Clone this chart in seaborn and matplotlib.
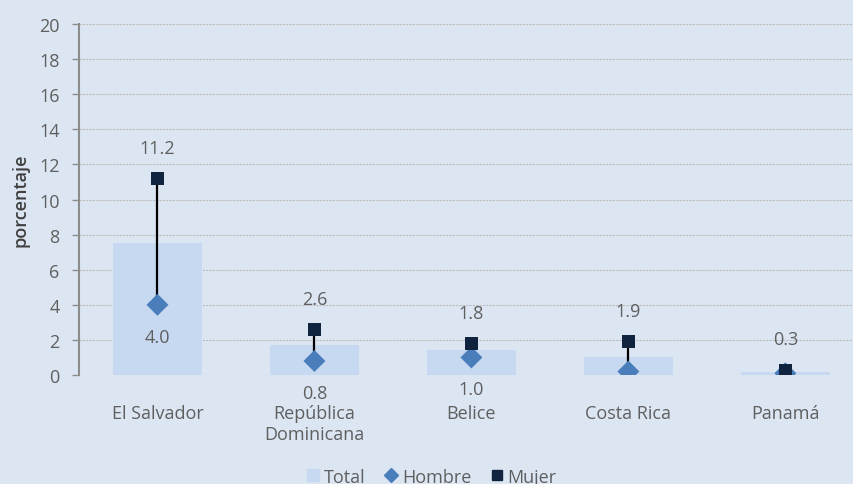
import matplotlib
matplotlib.use('Agg')
import matplotlib.pyplot as plt
import seaborn as sns
import pandas as pd
from matplotlib.lines import Line2D

paises = ['El Salvador', 'República\nDominicana', 'Belice', 'Costa Rica', 'Panamá']
total = [7.5, 1.7, 1.4, 1.0, 0.2]
hombre = [4.0, 0.8, 1.0, 0.2, 0.1]
mujer = [11.2, 2.6, 1.8, 1.9, 0.3]
etiq_hombre = ['4.0', '0.8', '1.0', None, None]
etiq_mujer = ['11.2', '2.6', '1.8', '1.9', '0.3']

fondo = '#dce6f2'
c_total = '#c6d9f0'
c_hombre = '#4a7ebb'
c_mujer = '#10243f'
gris = '#5f5f5f'
tam = 13

sns.set_style('white')
plt.rcParams['font.family'] = ['Open Sans', 'DejaVu Sans']

df = pd.DataFrame({'pais': paises, 'total': total, 'hombre': hombre, 'mujer': mujer})
df['x'] = range(len(df))

fig = plt.figure(figsize=(8.54, 4.85), dpi=100, facecolor=fondo)
ax = fig.add_axes([0.0925, 0.2247, 0.919, 0.7237])
ax.set_facecolor(fondo)

# barras del total y rango hombre-mujer
sns.barplot(data=df, x='pais', y='total', color=c_total, width=0.57,
            saturation=1, linewidth=0, ax=ax, zorder=2)
ax.vlines(df['x'], df['hombre'], df['mujer'], color='black', lw=1.6, zorder=3)
sns.scatterplot(data=df, x='x', y='hombre', marker='D', s=125, color=c_hombre,
                edgecolor='none', linewidth=0, ax=ax, zorder=4)
sns.scatterplot(data=df, x='x', y='mujer', marker='s', s=80, color=c_mujer,
                edgecolor='none', linewidth=0, ax=ax, zorder=5)

for i in range(len(paises)):
    ax.annotate(etiq_mujer[i], (i, mujer[i]), xytext=(0, 22), textcoords='offset points',
                ha='center', va='center', fontsize=tam, color=gris)
    if etiq_hombre[i]:
        ax.annotate(etiq_hombre[i], (i, hombre[i]), xytext=(0, -23), textcoords='offset points',
                    ha='center', va='center', fontsize=tam, color=gris)

ax.set_xlim(-0.5, 4.5)
ax.set_ylim(0, 20)
ax.set_yticks(range(0, 21, 2))
ax.yaxis.grid(True, linestyle=(0, (2, 1)), color='#bcbcbc', lw=0.8, zorder=0)
ax.set_axisbelow(True)
for s in ['top', 'right', 'bottom']:
    ax.spines[s].set_visible(False)
ax.spines['left'].set_color('#8c8c8c')
ax.spines['left'].set_linewidth(1.5)
ax.tick_params(axis='y', length=5, width=1, color='#8c8c8c', pad=9, labelsize=tam,
               labelcolor=gris, left=True)
ax.tick_params(axis='x', length=0, pad=21, labelsize=tam, labelcolor=gris)
ax.set_xlabel('')
ax.set_ylabel('porcentaje', fontsize=tam, color='#404040', fontweight='semibold', labelpad=7)

handles = [Line2D([], [], marker='s', color=c_total, ls='none', markersize=8, label='Total'),
           Line2D([], [], marker='D', color=c_hombre, ls='none', markersize=7, label='Hombre'),
           Line2D([], [], marker='s', color=c_mujer, ls='none', markersize=7, label='Mujer')]
fig.legend(handles=handles, loc='center', bbox_to_anchor=(0.505, 0.015), ncol=3,
           frameon=False, prop={'size': tam}, labelcolor=gris,
           handlelength=0.8, handletextpad=0.2, columnspacing=1.0)

fig.savefig('out.png', dpi=100, facecolor=fondo)
